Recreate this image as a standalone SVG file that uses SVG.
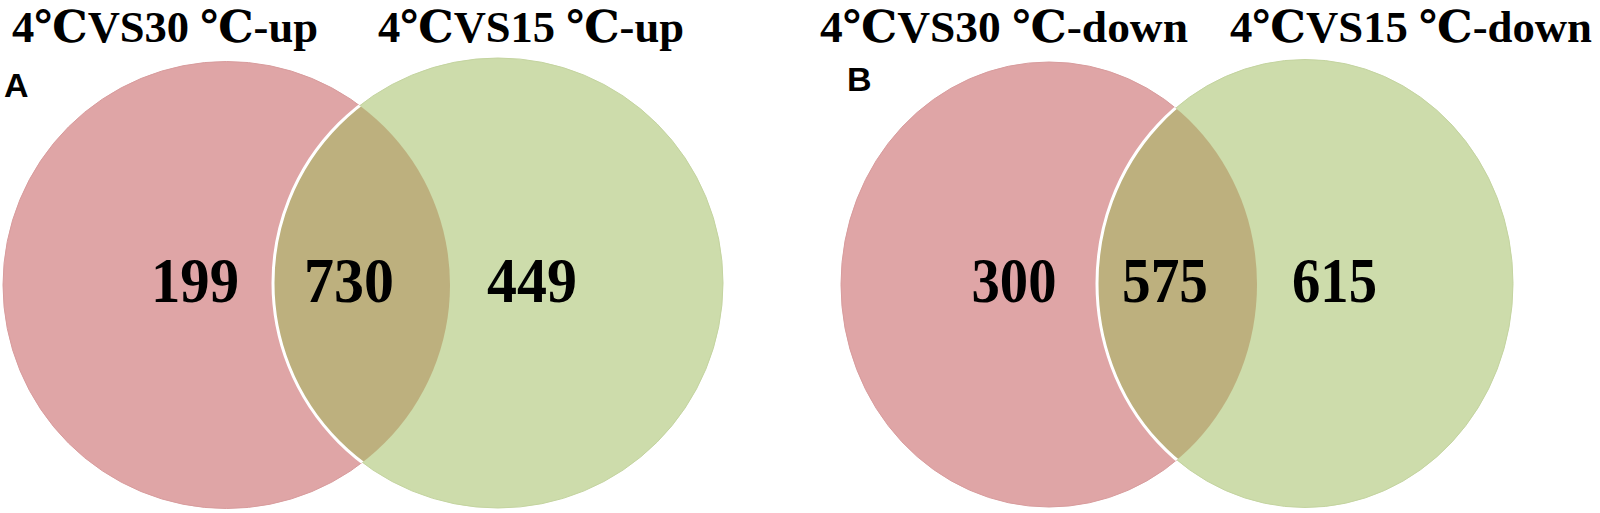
<svg xmlns="http://www.w3.org/2000/svg" width="1600" height="513" viewBox="0 0 1600 513">
<style>
.title{font-family:"Liberation Serif","DejaVu Serif",serif;font-weight:bold;font-size:44px;fill:#000}
.panel{font-family:"Liberation Sans",Arial,sans-serif;font-weight:bold;font-size:34px;fill:#000}
.num{font-family:"Liberation Serif","Times New Roman",serif;font-weight:bold;font-size:63px;fill:#000;text-anchor:middle}
.pink{fill:#dfa5a6;stroke:#d89c9d;stroke-width:1}
.green{fill:#cddcab;stroke:#c4d4a0;stroke-width:1}
.overlap{fill:#bdb07e}
.sep{fill:none;stroke:#ffffff;stroke-width:3}
</style>
<defs>
<clipPath id="clipPinkA"><circle cx="226.5" cy="285" r="223.5"/></clipPath>
<clipPath id="clipPinkB"><ellipse cx="1049" cy="284.5" rx="208" ry="222.5"/></clipPath>
</defs>
<rect width="1600" height="513" fill="#ffffff"/>

<g id="title-A1"><text class="title" x="12" y="42" textLength="306" lengthAdjust="spacingAndGlyphs">4℃VS30 ℃-up</text></g>
<g id="title-A2"><text class="title" x="378" y="42" textLength="306" lengthAdjust="spacingAndGlyphs">4℃VS15 ℃-up</text></g>
<g id="title-B1"><text class="title" x="820" y="42" textLength="368" lengthAdjust="spacingAndGlyphs">4℃VS30 ℃-down</text></g>
<g id="title-B2"><text class="title" x="1230" y="42" textLength="362" lengthAdjust="spacingAndGlyphs">4℃VS15 ℃-down</text></g>

<g id="label-A"><text class="panel" x="4" y="97">A</text></g>
<g id="label-B"><text class="panel" x="847" y="91">B</text></g>

<g id="venn-A">
  <g id="setA-30"><circle class="pink" cx="226.5" cy="285" r="223.5"/></g>
  <g id="setA-15"><circle class="green" cx="498" cy="283" r="225"/></g>
  <g id="overlapA"><circle class="overlap" cx="498" cy="283" r="225" clip-path="url(#clipPinkA)"/></g>
  <circle class="sep" cx="498" cy="283" r="225" clip-path="url(#clipPinkA)"/>
  <text class="num" x="195" y="302" textLength="88" lengthAdjust="spacingAndGlyphs">199</text>
  <text class="num" x="349" y="302" textLength="90" lengthAdjust="spacingAndGlyphs">730</text>
  <text class="num" x="532" y="302" textLength="90" lengthAdjust="spacingAndGlyphs">449</text>
</g>

<g id="venn-B">
  <g id="setB-30"><ellipse class="pink" cx="1049" cy="284.5" rx="208" ry="222.5"/></g>
  <g id="setB-15"><ellipse class="green" cx="1305" cy="283.5" rx="208" ry="224"/></g>
  <g id="overlapB"><ellipse class="overlap" cx="1305" cy="283.5" rx="208" ry="224" clip-path="url(#clipPinkB)"/></g>
  <ellipse class="sep" cx="1305" cy="283.5" rx="208" ry="224" clip-path="url(#clipPinkB)"/>
  <text class="num" x="1014" y="302" textLength="85" lengthAdjust="spacingAndGlyphs">300</text>
  <text class="num" x="1165" y="302" textLength="86" lengthAdjust="spacingAndGlyphs">575</text>
  <text class="num" x="1334.5" y="302" textLength="85" lengthAdjust="spacingAndGlyphs">615</text>
</g>

<g id="connectors"></g>
</svg>
